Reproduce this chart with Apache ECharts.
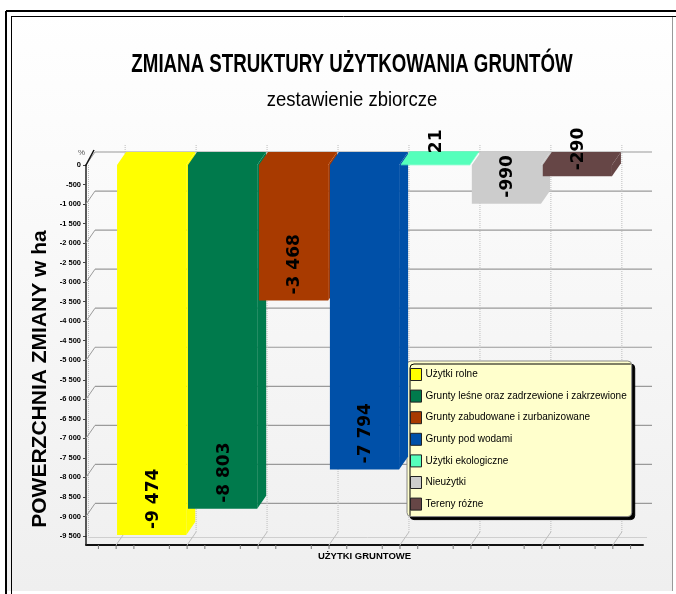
<!DOCTYPE html>
<html><head><meta charset="utf-8">
<script src="https://cdn.jsdelivr.net/npm/echarts@6/dist/echarts.min.js"></script>
<style>html,body{margin:0;padding:0;background:#fff}#c{width:676px;height:594px}</style>
</head><body><div id="c"></div>
<script>
// ---- data ----
const categories = ['Użytki rolne', 'Grunty leśne oraz zadrzewione i zakrzewione', 'Grunty zabudowane i zurbanizowane', 'Grunty pod wodami', 'Użytki ekologiczne', 'Nieużytki', 'Tereny różne'];
const changes = [-9474, -8803, -3468, -7794, 21, -990, -290];
const colors = ['#ffff00', '#007a4c', '#a83a00', '#0050a8', '#55ffbb', '#cccccc', '#664646'];
const yMin = -9500, yMax = 0, yStep = 500;
const backGridValues = [0, -1000, -2000, -3000, -4000, -5000, -6000, -7000, -8000, -9000];
const titleText = 'ZMIANA STRUKTURY UŻYTKOWANIA GRUNTÓW';
const subtitleText = 'zestawienie zbiorcze';
const yTitle = 'POWERZCHNIA ZMIANY w ha';
const xTitle = 'UŻYTKI GRUNTOWE';

// ---- style constants ----
const DX = 9, DY = -13;          // 3D depth offset
const AXIS_OFFSET = 9;           // floor below -9500
const BAR_FILL = 0.975;
const X_MIN = -0.925, X_MAX = 6.925;
const SANS = '"Liberation Sans",Arial,sans-serif';

function fmt(v) {
  const s = String(Math.abs(v)).replace(/\B(?=(\d{3})+(?!\d))/g, ' ');
  return (v < 0 ? '-' : '') + s;
}

const chart = echarts.init(document.getElementById('c'), null, {renderer: 'canvas'});

function renderWall(params, api) {
  const xs = api.coord([X_MIN, 0])[0];
  const xe = api.coord([X_MAX, 0])[0];
  const y0 = api.coord([X_MIN, 0])[1];
  const yLow = api.coord([X_MIN, yMin])[1];
  const yF = yLow + AXIS_OFFSET;
  const ch = [];
  const grey = '#9a9a9a';
  ch.push({type: 'line', shape: {x1: xs + 2.5, y1: y0, x2: xs + 2.5, y2: yLow}, style: {stroke: '#bbb', lineWidth: 1, lineDash: [1, 1]}});
  ch.push({type: 'line', shape: {x1: xs + 2, y1: yLow + 1.5, x2: xe + 4, y2: yLow + 1.5}, style: {stroke: '#cfcfcf', lineWidth: 1}});
  backGridValues.forEach(v => {
    const y = api.coord([X_MIN, v])[1];
    ch.push({type: 'line', shape: {x1: xs, y1: y, x2: xs + DX, y2: y + DY}, style: {stroke: grey, lineWidth: 1}});
    ch.push({type: 'line', shape: {x1: xs + DX, y1: y + DY, x2: xe + DX, y2: y + DY}, style: {stroke: grey, lineWidth: 1.2}});
  });
  for (let k = 0; k <= categories.length; k++) {
    const b = api.coord([k - 0.5, 0])[0];
    ch.push({type: 'line', shape: {x1: b + DX, y1: yF + DY, x2: b + DX, y2: y0 + DY - 7}, style: {stroke: '#bdbdbd', lineWidth: 1, lineDash: [1, 1]}});
    ch.push({type: 'line', shape: {x1: b, y1: yF, x2: b + DX, y2: yF + DY}, style: {stroke: '#bdbdbd', lineWidth: 1}});
    [-0.25, 0, 0.25].forEach(o => {
      const t = api.coord([k - 0.5 + o, 0])[0];
      ch.push({type: 'line', shape: {x1: t, y1: yF, x2: t, y2: yF + 4}, style: {stroke: '#777', lineWidth: 1}});
    });
  }
  ch.push({type: 'line', shape: {x1: xs, y1: yLow, x2: xs, y2: yF}, style: {stroke: '#222', lineWidth: 1.5}});
  ch.push({type: 'line', shape: {x1: xs - 0.5, y1: y0 + 1, x2: xs + DX - 1, y2: y0 + DY - 2}, style: {stroke: '#111', lineWidth: 1.5}});
  ch.push({type: 'text', x: xs - 1, y: y0 - 12, style: {text: '%', fill: '#555', font: '8px ' + SANS, align: 'right', verticalAlign: 'middle'}});
  return {type: 'group', children: ch};
}

function renderBar(params, api) {
  const i = api.value(0), v = api.value(1);
  const c0 = api.coord([i, 0]);
  const c1 = api.coord([i, v]);
  const bw = api.size([1, 0])[0] * BAR_FILL;
  const xL = c0[0] - bw / 2, xR = c0[0] + bw / 2;
  const yTop = Math.min(c0[1], c1[1]), yBot = Math.max(c0[1], c1[1]);
  const color = api.visual('color');
  const st = {fill: color, stroke: null};
  const ch = [
    {type: 'polygon', shape: {points: [[xR, yTop], [xR + DX, yTop + DY], [xR + DX, yBot + DY], [xR, yBot]]}, style: st},
    {type: 'rect', shape: {x: xL, y: yTop, width: bw, height: Math.max(yBot - yTop, 1)}, style: st},
    {type: 'polygon', shape: {points: [[xL, yTop], [xL + DX, yTop + DY], [xR + DX, yTop + DY], [xR, yTop]]}, style: st},
    {type: 'text', x: c0[0] + 1.5, y: v < 0 ? yBot - 6 : yTop - 11, rotation: Math.PI / 2,
      style: {text: fmt(v), fill: '#000', font: 'bold 17px "DejaVu Sans",sans-serif', align: 'left', verticalAlign: 'middle'}}
  ];
  return {type: 'group', children: ch};
}

const series = [{
  type: 'custom', name: '_wall', silent: true, z: 1,
  data: [[0, 0]], renderItem: renderWall, tooltip: {show: false}
}];
categories.forEach((name, i) => {
  series.push({
    type: 'custom', name: name, z: 2 + i,
    itemStyle: {color: colors[i]},
    data: [[i, changes[i]]],
    renderItem: renderBar
  });
});

const option = {
  animation: false,
  backgroundColor: 'transparent',
  graphic: [
    {type: 'rect', z: -10, shape: {x: 6, y: 11, width: 666, height: 580},
      style: {fill: {type: 'linear', x: 0, y: 0, x2: 0, y2: 1, colorStops: [{offset: 0, color: '#ffffff'}, {offset: 1, color: '#efefef'}]}}},
    {type: 'line', z: 100, shape: {x1: 6, y1: 11, x2: 676, y2: 11}, style: {stroke: '#000', lineWidth: 2}},
    {type: 'line', z: 100, shape: {x1: 6, y1: 11, x2: 6, y2: 594}, style: {stroke: '#000', lineWidth: 2}},
    {type: 'line', z: 100, shape: {x1: 11, y1: 16.5, x2: 676, y2: 16.5}, style: {stroke: '#000', lineWidth: 1}},
    {type: 'line', z: 100, shape: {x1: 11.5, y1: 16, x2: 11.5, y2: 594}, style: {stroke: '#000', lineWidth: 1}},
    {type: 'line', z: 100, shape: {x1: 672.5, y1: 17, x2: 672.5, y2: 591}, style: {stroke: '#999', lineWidth: 1}},
    {type: 'text', z: 50, x: 352, y: 65, scaleX: 0.72,
      style: {text: titleText, fill: '#000', font: 'bold 26px ' + SANS, align: 'center', verticalAlign: 'middle'}},
    {type: 'text', z: 50, x: 352, y: 100, scaleX: 0.88,
      style: {text: subtitleText, fill: '#000', font: '21px ' + SANS, align: 'center', verticalAlign: 'middle'}},
    {type: 'text', z: 50, x: 40, y: 379, rotation: Math.PI / 2,
      style: {text: yTitle, fill: '#000', font: 'bold 21px ' + SANS, align: 'center', verticalAlign: 'middle'}}
  ],
  legend: {
    data: categories,
    orient: 'vertical',
    left: 407, top: 361,
    padding: [7, 5, 6, 3],
    itemWidth: 11, itemHeight: 12, itemGap: 8.6,
    icon: 'rect',
    itemStyle: {borderColor: '#222', borderWidth: 1},
    backgroundColor: '#ffffcc',
    borderColor: '#888', borderWidth: 1, borderRadius: 4,
    shadowColor: '#000', shadowBlur: 0, shadowOffsetX: 3, shadowOffsetY: 3,
    textStyle: {fontFamily: SANS, fontSize: 10, lineHeight: 12, color: '#000', padding: [0, 0, 0, -1]},
    selectedMode: false
  },
  grid: {left: 86, top: 165, width: 557, height: 371, containLabel: false},
  xAxis: {
    type: 'value', min: X_MIN, max: X_MAX, offset: AXIS_OFFSET,
    name: xTitle, nameLocation: 'middle', nameGap: 6,
    nameTextStyle: {fontFamily: SANS, fontWeight: 'bold', fontSize: 9.5, color: '#000', verticalAlign: 'top'},
    axisLine: {show: true, onZero: false, lineStyle: {color: '#111', width: 2}},
    axisTick: {show: false}, axisLabel: {show: false}, splitLine: {show: false}
  },
  yAxis: {
    type: 'value', min: yMin, max: yMax, interval: yStep,
    axisLine: {show: true, onZero: false, lineStyle: {color: '#222', width: 1.5}},
    axisTick: {show: true, length: 3, lineStyle: {color: '#444'}},
    axisLabel: {formatter: fmt, fontFamily: SANS, fontWeight: 'bold', fontSize: 7.5, color: '#000', margin: 5},
    splitLine: {show: false}
  },
  series: series
};
chart.setOption(option);
</script>
</body></html>
